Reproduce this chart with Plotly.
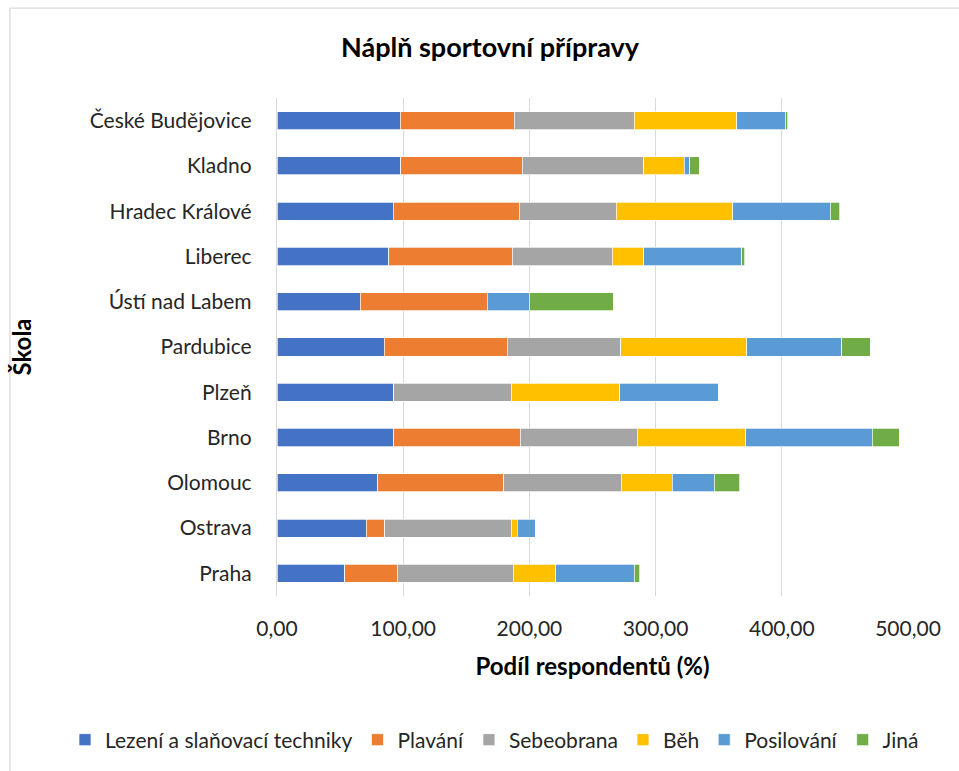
import plotly.graph_objects as go

schools = ["České Budějovice", "Kladno", "Hradec Králové", "Liberec", "Ústí nad Labem",
           "Pardubice", "Plzeň", "Brno", "Olomouc", "Ostrava", "Praha"]

lezeni     = [97.6, 97.9, 92.3, 88.4, 66.0, 85.0, 92.6, 92.6, 79.7, 70.7, 53.8]
plavani    = [90.3, 96.6, 99.8, 97.9, 100.5, 97.3, 0.0, 100.0, 100.0, 14.5, 41.5]
sebeobrana = [95.3, 96.3, 76.8, 79.2, 0.0, 90.1, 92.9, 92.9, 93.2, 100.3, 91.8]
beh        = [81.0, 31.7, 92.4, 25.3, 0.0, 100.0, 86.1, 85.8, 40.3, 4.8, 33.8]
posilovani = [38.5, 4.7, 77.0, 77.4, 33.5, 75.2, 78.4, 100.3, 33.3, 14.5, 62.3]
jina       = [2.1, 7.2, 7.7, 2.3, 66.5, 22.4, 0.0, 21.4, 20.3, 0.0, 4.2]

series_names = ["Lezení a slaňovací techniky", "Plavání", "Sebeobrana", "Běh", "Posilování", "Jiná"]
series_vals = [lezeni, plavani, sebeobrana, beh, posilovani, jina]
colors = ["#4472C4", "#ED7D31", "#A5A5A5", "#FFC000", "#5B9BD5", "#70AD47"]

FONT = "Lato"
W, H = 959, 771
L, R, T, B = 277, 51, 98, 174
PW = W - L - R
PH = H - T - B

fig = go.Figure()
for name, vals, col in zip(series_names, series_vals, colors):
    fig.add_trace(go.Bar(
        y=schools, x=vals, name=name, orientation="h",
        marker=dict(color=col, line=dict(color="white", width=0.7)),
        hovertemplate="%{y}: %{x:.2f}<extra>" + name + "</extra>",
    ))

fig.update_layout(
    barmode="stack",
    bargap=0.6,
    width=W, height=H,
    margin=dict(l=L, r=R, t=T, b=B),
    paper_bgcolor="white", plot_bgcolor="white",
    separators=", ",
    font=dict(family=FONT, size=21, color="#262626"),
    title=dict(text="<b>Náplň sportovní přípravy</b>", x=0.511, xref="container",
               xanchor="center", y=1 - 48 / H, yref="container", yanchor="middle",
               font=dict(family=FONT, size=27, color="#000000")),
    xaxis=dict(range=[0, 500], dtick=100, tickformat=".2f",
               showgrid=True, gridcolor="#D9D9D9", gridwidth=1.3,
               zeroline=False, showline=False, ticks="", ticklabelstandoff=18,
               tickfont=dict(family=FONT, size=21, color="#262626"),
               title=dict(text="<b>Podíl respondentů (%)</b>", standoff=19,
                          font=dict(family=FONT, size=24, color="#000000"))),
    yaxis=dict(categoryorder="array", categoryarray=schools, autorange="reversed",
               showline=True, linecolor="#D9D9D9", linewidth=1.3,
               ticks="", ticklabelstandoff=20,
               tickfont=dict(family=FONT, size=21, color="#262626"),
               title=dict(text="<b>Škola</b>", standoff=51,
                          font=dict(family=FONT, size=24, color="#000000"))),
    legend=dict(orientation="h", traceorder="normal",
                xref="paper", yref="paper",
                x=(65 - L) / PW, xanchor="left", y=(T + PH - 740) / PH, yanchor="middle",
                font=dict(family=FONT, size=21, color="#262626"),
                itemwidth=30),
    shapes=[dict(type="rect", xref="paper", yref="paper",
                 x0=(10 - L) / PW, x1=(975 - L) / PW,
                 y0=(T + PH - 790) / PH, y1=(T + PH - 8) / PH,
                 line=dict(color="#D9D9D9", width=1.3), fillcolor="rgba(0,0,0,0)",
                 layer="below")],
)

fig.write_html("out.html", config={"displayModeBar": False},
               post_script="document.body.style.margin='0';document.body.style.padding='0';")
